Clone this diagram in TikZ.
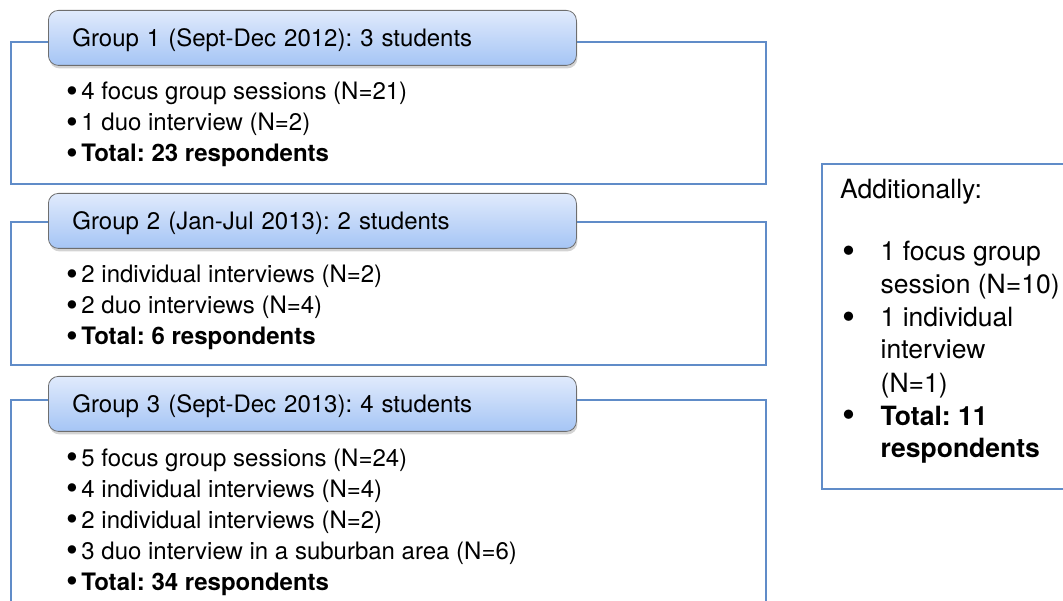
\documentclass[tikz,border=0pt]{standalone}
\usepackage{fontspec}
\setmainfont{TeX Gyre Heros}
\usetikzlibrary{positioning,shadows}
\definecolor{frameblue}{RGB}{96,140,200}
\definecolor{headtop}{RGB}{224,234,252}
\definecolor{headbot}{RGB}{165,197,245}
\definecolor{headline}{RGB}{110,110,110}

\tikzset{
  groupbox/.style={draw=frameblue, line width=1.6pt, anchor=north west, minimum width=755pt},
  headbox/.style={draw=headline, line width=0.8pt, rounded corners=10pt, top color=headtop, bottom color=headbot,
    anchor=north west, minimum width=528pt, minimum height=55pt, inner xsep=24pt, text width=480pt, align=left,
    text height=17pt, text depth=0pt, font=\fontsize{24}{30}\selectfont,
    drop shadow={shadow xshift=1pt, shadow yshift=-3pt, opacity=0.35}},
  item/.style={anchor=base west, inner sep=0pt, font=\fontsize{24}{30}\selectfont},
  sideitem/.style={anchor=base west, inner sep=0pt, font=\fontsize{26.5}{32}\selectfont}
}
\newcommand{\bigdot}{\raisebox{-0.1em}{\scalebox{1.4}{\textbullet}}}
\newcommand{\bul}{\bigdot\hspace{3.5pt}}
\newcommand{\sidebul}{\makebox[38.5pt][l]{\bigdot}}
\frenchspacing

\begin{document}
\begin{tikzpicture}[x=1pt, y=-1pt]
\useasboundingbox (0,0) rectangle (1063,601);
%		\draw[help lines] (0,0) grid (1063,601);
\node[groupbox, minimum height=142pt] (g1box) at (10,41) {};
\node[headbox] (g1head) at (48,10) {Group 1 (Sept-Dec 2012): 3 students};
\node[item] (g1a) at (66,100) {\bul 4 focus group sessions (N=21)};
\node[item] (g1b) at (66,131) {\bul 1 duo interview (N=2)};
\node[item] (g1c) at (66,162) {\bul\textbf{Total: 23 respondents}};

\node[groupbox, minimum height=143pt] (g2box) at (10,221) {};
\node[headbox] (g2head) at (48,193) {Group 2 (Jan-Jul 2013): 2 students};
\node[item] (g2a) at (66,283) {\bul 2 individual interviews (N=2)};
\node[item] (g2b) at (66,314) {\bul 2 duo interviews (N=4)};
\node[item] (g2c) at (66,345) {\bul\textbf{Total: 6 respondents}};

\node[groupbox, minimum height=300pt] (g3box) at (10,399) {};
\node[headbox] (g3head) at (48,376) {Group 3 (Sept-Dec 2013): 4 students};
\node[item] (g3a) at (66,466) {\bul 5 focus group sessions (N=24)};
\node[item] (g3b) at (66,497) {\bul 4 individual interviews (N=4)};
\node[item] (g3c) at (66,528) {\bul 2 individual interviews (N=2)};
\node[item] (g3d) at (66,559) {\bul 3 duo interview in a suburban area (N=6)};
\node[item] (g3e) at (66,590) {\bul\textbf{Total: 34 respondents}};

\node[groupbox, minimum width=300pt, minimum height=325pt] (extrabox) at (821,163) {};
\node[sideitem] (extra0) at (840,199) {Additionally:};
\node[sideitem] (extra1) at (842,261) {\sidebul 1 focus group};
\node[sideitem] (extra2) at (842,294) {\hspace*{38.5pt}session (N=10)};
\node[sideitem] (extra3) at (842,327) {\sidebul 1 individual};
\node[sideitem] (extra4) at (842,359) {\hspace*{38.5pt}interview};
\node[sideitem] (extra5) at (842,392) {\hspace*{38.5pt}(N=1)};
\node[sideitem] (extra6) at (842,425) {\sidebul\textbf{Total: 11}};
\node[sideitem] (extra7) at (842,457) {\hspace*{38.5pt}\textbf{respondents}};
\end{tikzpicture}
\end{document}
